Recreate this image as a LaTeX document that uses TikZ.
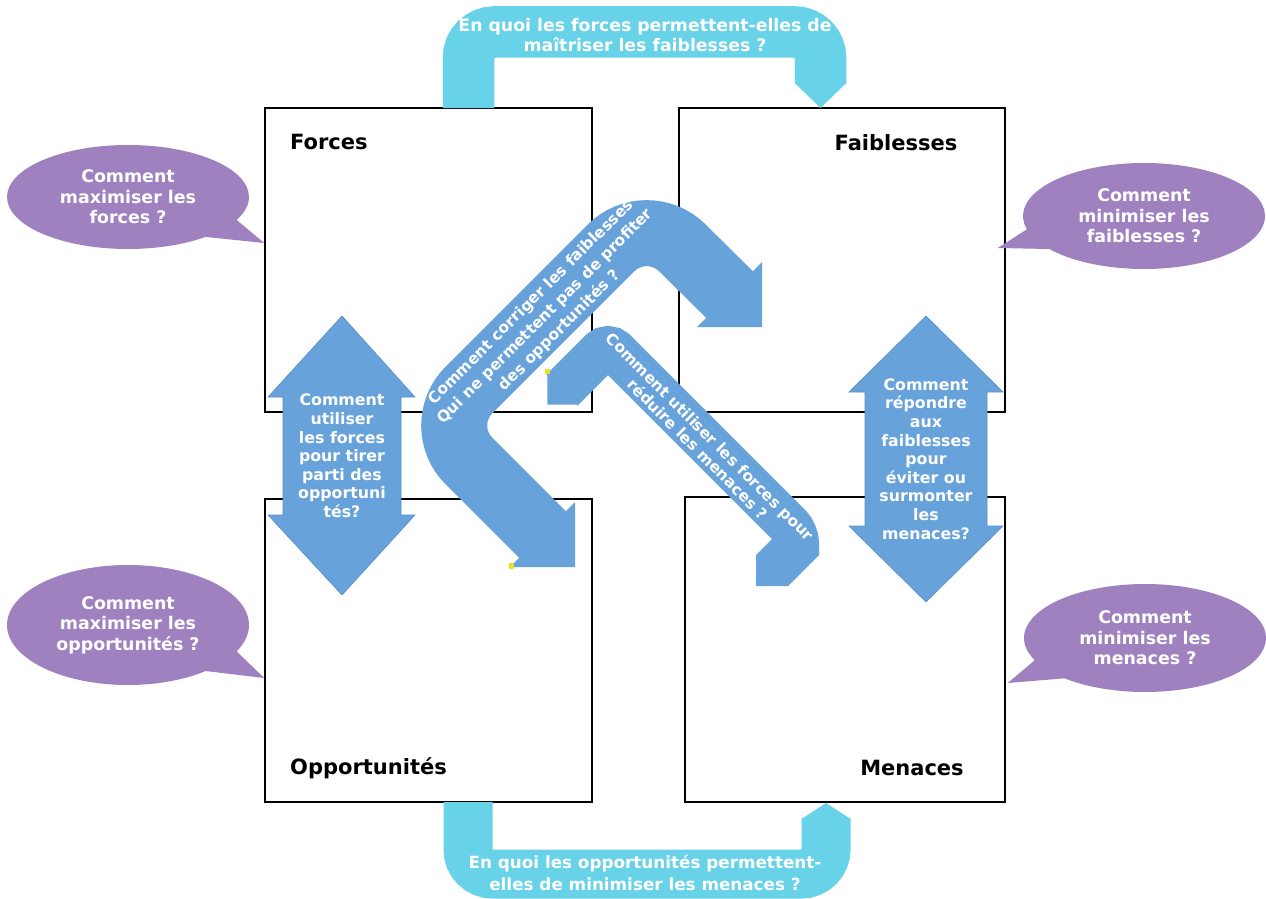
\documentclass[tikz,border=0pt]{standalone}
\usepackage{fontspec}
\setmainfont{DejaVu Sans}
\usepackage{tikz}
\usetikzlibrary{shapes.callouts}
\definecolor{swotpurple}{RGB}{159,129,192}
\definecolor{swotblue}{RGB}{103,162,219}
\definecolor{blueline}{RGB}{88,142,202}
\definecolor{swotcyan}{RGB}{104,210,232}
\definecolor{handle}{RGB}{238,222,40}

\begin{document}
\begin{tikzpicture}[x=1pt,y=-1pt,
    swotbox/.style={draw=black,line width=1.5pt,fill=white,inner sep=0pt},
    boxlabel/.style={inner sep=0pt,font=\fontsize{21}{25}\selectfont\bfseries},
    bulle/.style={ellipse callout,fill=swotpurple,text=white,inner sep=0pt,
        callout pointer arc=24,align=center,minimum width=242pt,
        font=\fontsize{17.4}{20.5}\selectfont\bfseries},
    dblfleche/.style={fill=swotblue,draw=blueline,line width=0.6pt},
    txtfleche/.style={text=white,align=center,inner sep=0pt,
        font=\fontsize{15.8}{18.6}\selectfont\bfseries}]
    \useasboundingbox (0,0) rectangle (1266,899);
    % les quatre cases
    \node[swotbox,minimum width=327pt,minimum height=304pt] (forces) at (428.5,260) {};
    \node[swotbox,minimum width=326pt,minimum height=304pt] (faib) at (842,260) {};
    \node[swotbox,minimum width=327pt,minimum height=303pt] (opp) at (428.5,650.5) {};
    \node[swotbox,minimum width=320pt,minimum height=305pt] (men) at (845,649.5) {};
    \node[boxlabel,anchor=west] (lforces) at (290,142) {Forces};
    \node[boxlabel] (lfaib) at (896,143) {Faiblesses};
    \node[boxlabel,anchor=west] (lopp) at (290,768) {Opportunités};
    \node[boxlabel] (lmen) at (912,768) {Menaces};
    % bulles
    \node[bulle,minimum height=104pt,callout absolute pointer={([yshift=17pt]forces.west)}]
        (bforces) at (128,197) {Comment\\maximiser les\\forces ?};
    \node[bulle,minimum height=106pt,callout absolute pointer={([xshift=-8pt,yshift=12pt]faib.east)}]
        (bfaib) at (1144,216) {Comment\\minimiser les\\faiblesses ?};
    \node[bulle,minimum height=120pt,callout absolute pointer={([yshift=-27.5pt]opp.west)}]
        (bopp) at (128,625) {Comment\\maximiser les\\opportunités ?};
    \node[bulle,minimum height=108pt,callout absolute pointer={([xshift=2pt,yshift=-33.5pt]men.east)}]
        (bmen) at (1145,638) {Comment\\minimiser les\\menaces ?};
    % fleches en U
    \draw[swotcyan,line width=51.5pt,rounded corners=25.75pt] (468.5,108) -- (468.5,32) -- (820.5,32) -- (820.5,84);
    \fill[swotcyan] (794.75,83) -- (846.25,83) -- (820.5,108) -- cycle;
    \node[txtfleche,font=\fontsize{17.3}{20}\selectfont\bfseries] (qhaut) at (645,35)
        {En quoi les forces permettent-elles de\\maîtriser les faiblesses ?};
    \draw[swotcyan,line width=49pt,rounded corners=24.5pt] (468,802) -- (468,874) -- (826,874) -- (826,818);
    \fill[swotcyan] (801.5,819) -- (826,803) -- (850.5,819) -- cycle;
    \node[txtfleche,font=\fontsize{16.8}{22}\selectfont\bfseries] (qbas) at (645,873)
        {En quoi les opportunités permettent-\\elles de minimiser les menaces ?};
    % doubles fleches
    \draw[dblfleche] (342,316) -- (415,397) -- (401,397) -- (401,515) -- (415,515) -- (342,595)
        -- (268,515) -- (283,515) -- (283,397) -- (268,397) -- cycle;
    \node[txtfleche] (tforces) at (342,456) {Comment\\utiliser\\les forces\\pour tirer\\parti des\\opportuni\\tés?};
    \draw[dblfleche] (926,316) -- (1003,392) -- (987,392) -- (987,526) -- (1003,526) -- (926,602)
        -- (849,526) -- (865,526) -- (865,392) -- (849,392) -- cycle;
    \node[txtfleche] (tfaib) at (926,459) {Comment\\répondre\\aux\\faiblesses\\pour\\éviter ou\\surmonter\\les\\menaces?};
    % fleches coudees
    \draw[swotblue,line width=66pt,rounded corners=50pt] (544,536) -- (433.5,425.5) -- (646.5,212.5) -- (731,296);
    \fill[swotblue] (762,262) -- (762,327) -- (697,327) -- cycle;
    \fill[swotblue] (575,502) -- (575,567) -- (510,567) -- cycle;
    \node[txtfleche,rotate=45,font=\fontsize{15.5}{20}\selectfont\bfseries] (corriger) at (545.5,316.5)
        {Comment corriger les faiblesses\\Qui ne permettent pas de profiter\\des opportunités ?};
    \draw[swotblue,line width=44pt,rounded corners=10pt] (562,390) -- (608,344) -- (797,533) -- (797,554);
    \fill[swotblue] (547.4,373.4) -- (547.4,404.6) -- (578.6,404.6) -- cycle;
    \fill[swotblue] (772,539) -- (756,555) -- (756,586) -- (788,586) -- (819,555) -- (819,552)
        -- (775,552) -- (775,542) -- cycle;
    \node[txtfleche,rotate=-45,font=\fontsize{15.5}{17.5}\selectfont\bfseries] (reduire) at (704,443)
        {Comment utiliser les forces pour\\réduire les menaces ?};
    \fill[handle] (545,369) rectangle (550,374);
    \fill[handle] (509,563) rectangle (514,569);
\end{tikzpicture}
\end{document}
